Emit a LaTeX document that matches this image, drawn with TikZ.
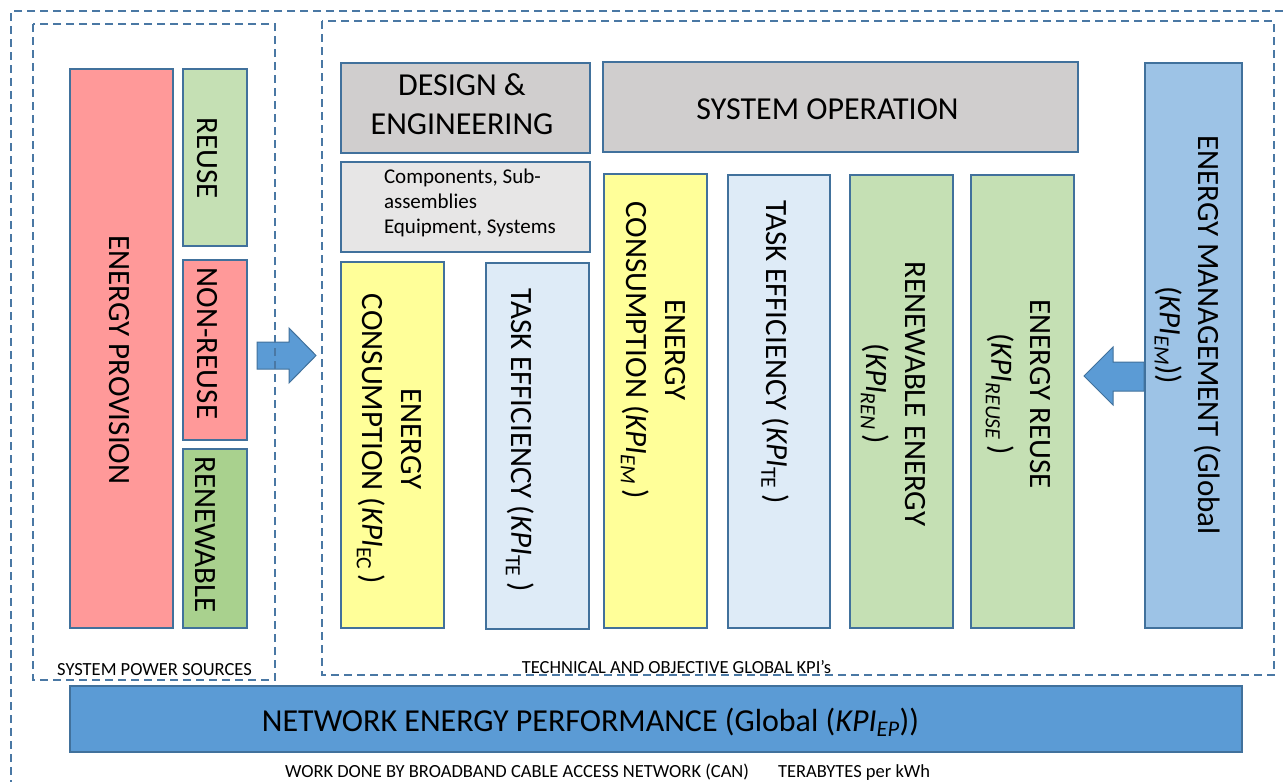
\documentclass[tikz,border=0pt]{standalone}
\usepackage{fontspec}
\setmainfont{Carlito}
\definecolor{edge}{HTML}{41719C}
\definecolor{framecol}{HTML}{4A78A4}
\definecolor{provred}{HTML}{FF9999}
\definecolor{reusegreen}{HTML}{C5E0B4}
\definecolor{renewgreen}{HTML}{A9D18E}
\definecolor{consyellow}{HTML}{FFFF99}
\definecolor{taskblue}{HTML}{DEEBF7}
\definecolor{headgray}{HTML}{D0CECE}
\definecolor{lightgray}{HTML}{E7E6E6}
\definecolor{mgmtblue}{HTML}{9DC3E6}
\definecolor{arrowblue}{HTML}{5B9BD5}
\newcommand{\kpi}[1]{\textit{KPI}\textsubscript{#1}}
\begin{document}
\begin{tikzpicture}[x=1pt,y=-1pt,
  every node/.style={inner sep=0pt, outer sep=0pt},
  box/.style={draw=edge, line width=1.2pt, rectangle},
  frame/.style={draw=framecol, line width=1.4pt, dash pattern=on 8pt off 5pt},
  vtext/.style={rotate=-90, align=center, font=\fontsize{31}{39}\selectfont},
  htext/.style={align=center, font=\fontsize{32}{39}\selectfont},
  smalltext/.style={font=\fontsize{18.5}{22}\selectfont},
  blockarrow/.style={fill=arrowblue, draw=edge, line width=1pt, line join=miter},
]
\useasboundingbox (0,0) rectangle (1283,782);

% block arrows feeding the KPI area
\draw[blockarrow] (257,342) -- (289,342) -- (289,328) -- (316,355.5)
  -- (289,383) -- (289,369) -- (257,369) -- cycle;
\draw[blockarrow] (1144,362) -- (1113,362) -- (1113,347) -- (1084,376)
  -- (1113,405) -- (1113,391) -- (1144,391) -- cycle;

% dashed frames
\draw[frame] (1283,11) -- (11,11) -- (11,782);
\draw[frame] (33,24) rectangle (275,680);
\draw[frame] (322,21) rectangle (1274,675);

% power sources
\node[box, fill=provred, minimum width=103pt, minimum height=559pt] (prov) at (121.5,348.5) {};
\node[box, fill=reusegreen, minimum width=64pt, minimum height=177pt] (reuse) at (215,157.5) {};
\node[box, fill=provred, minimum width=64pt, minimum height=180pt] (nonreuse) at (215,350) {};
\node[box, fill=renewgreen, minimum width=64pt, minimum height=179pt] (renew) at (215,538.5) {};
\node[vtext] (tprov) at (119,360) {ENERGY PROVISION};
\node[vtext] (treuse) at (207,158) {REUSE};
\node[vtext] (tnonreuse) at (207,343.5) {NON-REUSE};
\node[vtext] (trenew) at (205,534.5) {RENEWABLE};

% design and operation headers
\node[box, fill=headgray, minimum width=249pt, minimum height=90pt] (design) at (465.5,108) {};
\node[box, fill=lightgray, minimum width=249pt, minimum height=90pt] (comp) at (465.5,207) {};
\node[box, fill=headgray, minimum width=475pt, minimum height=90pt] (sysop) at (840.5,107) {};
\node[htext] (tdesign) at (462,104.5) {DESIGN \&\\ENGINEERING};
\node[htext, anchor=base] (tsysop) at (827.5,119) {SYSTEM OPERATION};
\node[align=left, anchor=base west, font=\fontsize{21}{25}\selectfont] (tcomp) at (384,233)
  {Components, Sub-\\assemblies\\Equipment, Systems};

% KPI columns
\node[box, fill=consyellow, minimum width=103pt, minimum height=366pt] (ec1) at (392.5,445) {};
\node[box, fill=taskblue, minimum width=103pt, minimum height=366pt] (te1) at (537.5,446) {};
\node[box, fill=consyellow, minimum width=103pt, minimum height=454pt] (ec2) at (655.5,401) {};
\node[box, fill=taskblue, minimum width=102pt, minimum height=453pt] (te2) at (779,401.5) {};
\node[box, fill=reusegreen, minimum width=103pt, minimum height=453pt] (ren) at (901.5,401.5) {};
\node[box, fill=reusegreen, minimum width=103pt, minimum height=453pt] (reu) at (1022.5,401.5) {};
\node[box, fill=mgmtblue, minimum width=97pt, minimum height=565pt] (mgmt) at (1193.5,345.5) {};

\node[vtext] (tec1) at (389,439) {ENERGY\\CONSUMPTION (\kpi{EC}\,)};
\node[vtext] (tte1) at (520,440) {TASK EFFICIENCY (\kpi{TE}\,)};
\node[vtext] (tec2) at (653,350) {ENERGY\\CONSUMPTION (\kpi{\textit{EM}}\,)};
\node[vtext] (tte2) at (775.5,352) {TASK EFFICIENCY (\kpi{TE}\,)};
\node[vtext] (tren) at (893,394) {RENEWABLE ENERGY\\(\kpi{\textit{REN}}\,)};
\node[vtext] (treu) at (1018,394) {ENERGY REUSE\\(\kpi{\textit{REUSE}}\,)};
\node[vtext] (tmgmt) at (1188,335) {ENERGY MANAGEMENT (Global\\(\kpi{\textit{EM}}))};

% global performance bar
\node[box, fill=arrowblue, minimum width=1172pt, minimum height=66pt] (nep) at (656,719) {};
\node[htext, anchor=base] (tnep) at (590.5,731) {NETWORK ENERGY PERFORMANCE (Global (\kpi{\textit{EP}}))};

% captions
\node[smalltext, anchor=base] (cap1) at (154.5,675) {SYSTEM POWER SOURCES};
\node[smalltext, anchor=base] (cap2) at (676.5,673) {TECHNICAL AND OBJECTIVE GLOBAL KPI’s};
\node[smalltext, anchor=base west] (cap3) at (285,777.5)
  {WORK DONE BY BROADBAND CABLE ACCESS NETWORK (CAN)\hspace{29pt}TERABYTES per kWh};
\end{tikzpicture}
\end{document}
